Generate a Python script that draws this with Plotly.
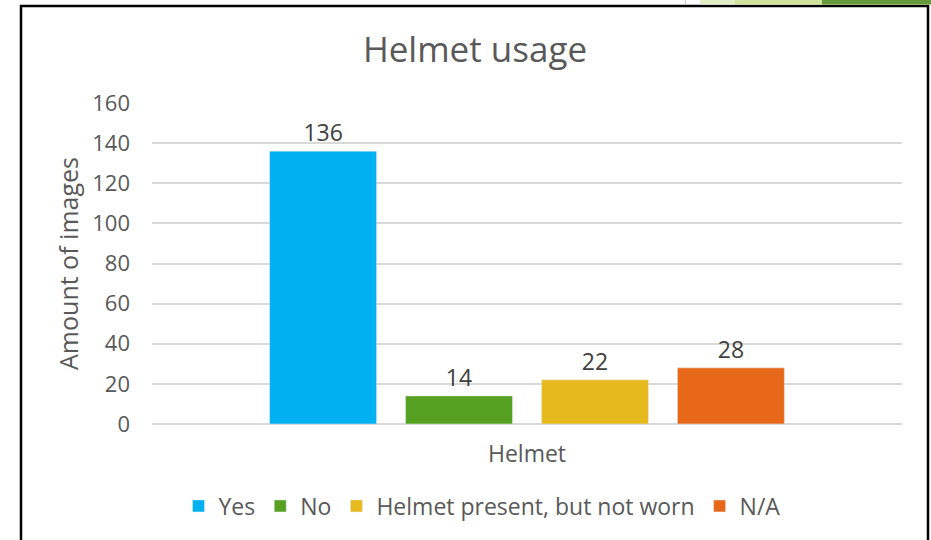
import plotly.graph_objects as go

categories = ["Helmet"]
series_names = ["Yes", "No", "Helmet present, but not worn", "N/A"]
series_values = [136, 14, 22, 28]
series_colors = ["#00B0F0", "#56A121", "#E6B91E", "#E8681A"]
y_ticks = [0, 20, 40, 60, 80, 100, 120, 140, 160]

FONT = "Open Sans"

fig = go.Figure()
for name, val, col in zip(series_names, series_values, series_colors):
    fig.add_trace(go.Bar(
        x=categories, y=[val], name=name, marker_color=col,
        text=[str(val)], textposition="outside", cliponaxis=False,
        textfont=dict(size=23, color="#404040", family=FONT),
    ))

W, H = 931, 540
L, R, T, B = 152, 29, 103, 116
pw, ph = W - L - R, H - T - B

def px(x):
    return (x - L) / pw

def py(y):
    return (H - B - y) / ph

shapes = [
    # slide frame
    dict(type="rect", xref="paper", yref="paper", x0=px(21), x1=px(928), y0=py(560), y1=py(6),
         line=dict(color="black", width=2.5), fillcolor="rgba(0,0,0,0)", layer="below"),
    # top-right decoration
    dict(type="rect", xref="paper", yref="paper", x0=px(700), x1=px(735), y0=py(4.5), y1=py(-5),
         line=dict(width=0), fillcolor="#E2EDC6"),
    dict(type="rect", xref="paper", yref="paper", x0=px(735), x1=px(822), y0=py(4.5), y1=py(-5),
         line=dict(width=0), fillcolor="#CFE29C"),
    dict(type="rect", xref="paper", yref="paper", x0=px(822), x1=px(935), y0=py(4.5), y1=py(-5),
         line=dict(width=0), fillcolor="#66993C"),
    dict(type="line", xref="paper", yref="paper", x0=px(684), x1=px(686), y0=py(-5), y1=py(5),
         line=dict(color="#BBBBBB", width=1)),
]

fig.update_layout(
    width=W, height=H,
    margin=dict(l=L, r=R, t=T, b=B),
    paper_bgcolor="white", plot_bgcolor="white",
    font=dict(family=FONT, color="#595959"),
    title=dict(text="Helmet usage", x=475 / W, xanchor="center", y=1 - 50 / H, yanchor="middle",
               font=dict(size=35, color="#595959", family=FONT)),
    barmode="group", bargap=0.275, bargroupgap=0.213,
    showlegend=True,
    legend=dict(orientation="h", x=px(482), xanchor="center", y=py(506), yanchor="middle",
                font=dict(size=23, color="#595959", family=FONT), itemwidth=30,
                traceorder="normal"),
    shapes=shapes,
)
fig.update_xaxes(showgrid=False, showline=False, ticks="", ticklabelstandoff=14,
                 tickfont=dict(size=23, color="#595959", family=FONT))
fig.update_yaxes(range=[0, 160], tickvals=y_ticks, showgrid=True, gridcolor="#D9D9D9", gridwidth=1.5,
                 zeroline=True, zerolinecolor="#D9D9D9", zerolinewidth=1.5, showline=False, ticks="",
                 ticklabelstandoff=21,
                 tickfont=dict(size=22, color="#595959", family=FONT),
                 title=dict(text="Amount of images", standoff=6,
                            font=dict(size=25, color="#595959", family=FONT)))

fig.write_html("out.html", config={"displayModeBar": False},
               post_script="document.body.style.margin='0';")
